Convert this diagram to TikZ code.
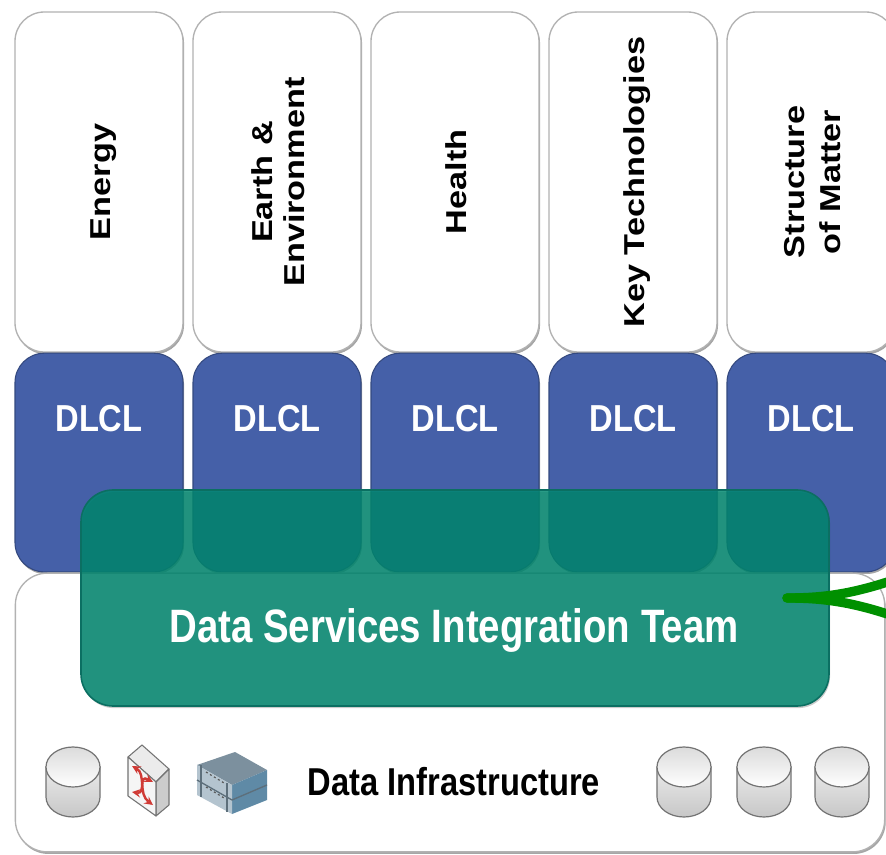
\documentclass[tikz,border=0pt]{standalone}
\usepackage{graphicx}
\usepackage{fontspec}
\setmainfont{Liberation Sans}
\usepackage{tikz}
\usetikzlibrary{positioning}
\usetikzlibrary{shadows}
\definecolor{dlclblue}{HTML}{4560A8}
\definecolor{dlcledge}{HTML}{34497F}
\definecolor{teamfill}{HTML}{018870}
\definecolor{teamedge}{HTML}{0B6F62}
\definecolor{linkgreen}{HTML}{009000}
\definecolor{servertop}{HTML}{7C909E}
\definecolor{serverside}{HTML}{5F8AA6}
\definecolor{serverfront}{HTML}{B4C4CF}
\definecolor{serverear}{HTML}{5D6F7B}
\definecolor{switchred}{HTML}{D03A35}
\newcommand{\wide}[1]{\hspace{7.5pt}\rotatebox{90}{\scalebox{1.19}[1]{\begin{tabular}{@{}c@{}}#1\end{tabular}}}}
\newcommand{\tall}[2]{\scalebox{1}[#1]{#2}}

\begin{document}
\begin{tikzpicture}[
  x=0.75pt,y=-0.75pt,
  node distance=0pt and 6.5pt,
  softshadow/.style={drop shadow={shadow xshift=0.8pt,shadow yshift=-1.6pt,opacity=0.35,fill=black}},
  topicbox/.style={draw=black!30,line width=1pt,fill=white,rounded corners=22pt,minimum width=126pt,minimum height=255pt,inner sep=0pt,softshadow,font=\bfseries\fontsize{21.6}{24}\selectfont},
  dlclbox/.style={draw=dlcledge,line width=0.8pt,fill=dlclblue,rounded corners=22pt,minimum width=126pt,minimum height=164pt,inner sep=0pt,softshadow},
  dlcltext/.style={text=white,inner sep=0pt,font=\bfseries\fontsize{24.5}{28}\selectfont},
  infrabox/.style={draw=black!30,line width=1pt,fill=white,rounded corners=24pt,minimum width=652pt,minimum height=209pt,inner sep=0pt,softshadow},
  teambox/.style={draw=teamedge,line width=1.2pt,fill=teamfill,fill opacity=0.84,rounded corners=24pt,minimum width=561pt,minimum height=162pt,inner sep=0pt,drop shadow={shadow xshift=0.8pt,shadow yshift=-1.6pt,opacity=0.2,fill=black}},
  greenlink/.style={draw=linkgreen,line width=7pt,line cap=round},
  dbicon/.pic={
    \shade[top color=black!8,bottom color=black!22,draw=black!55,line width=0.9pt] (-27,-15) -- (-27,15) arc[start angle=180,end angle=0,x radius=27,y radius=20] -- (27,-15) -- cycle;
    \shade[top color=black!14,bottom color=white,draw=black!55,line width=0.9pt] (0,-15) ellipse[x radius=27,y radius=20];
  }
]
\useasboundingbox (0,0) rectangle (886,855);
\clip (0,0) rectangle (886,855);
\fill[white] (0,0) rectangle (886,855);

\node[topicbox] (energy) at (99,182) {\wide{Energy}};
\node[topicbox, right=of energy] (earth) {\wide{Earth \&\\Environment}};
\node[topicbox, right=of earth] (health) {\wide{Health}};
\node[topicbox, right=of health] (keytech) {\wide{Key Technologies}};
\node[topicbox, right=of keytech] (matter) {\wide{Structure\\[3pt]of Matter}};

\node[dlclbox, below=of energy] (dlcl1) {};
\node[dlclbox, below=of earth] (dlcl2) {};
\node[dlclbox, below=of health] (dlcl3) {};
\node[dlclbox, below=of keytech] (dlcl4) {};
\node[dlclbox, below=of matter] (dlcl5) {};

\node[dlcltext, below=39pt of energy.south] (dlcltext1) {\tall{1.15}{DLCL}};
\node[dlcltext, below=39pt of earth.south] (dlcltext2) {\tall{1.15}{DLCL}};
\node[dlcltext, below=39pt of health.south] (dlcltext3) {\tall{1.15}{DLCL}};
\node[dlcltext, below=39pt of keytech.south] (dlcltext4) {\tall{1.15}{DLCL}};
\node[dlcltext, below=39pt of matter.south] (dlcltext5) {\tall{1.15}{DLCL}};

\node[infrabox] (infra) at (450,712.5) {};
\node[teambox] (team) at (455,598) {};
\node[text=white,inner sep=0pt,anchor=base,font=\bfseries\fontsize{28.8}{32}\selectfont] (teamtext) at (454,642) {\tall{1.22}{Data Services Integration Team}};
\node[inner sep=0pt,anchor=base,font=\bfseries\fontsize{24.5}{30}\selectfont] (infratext) at (454,795) {\tall{1.19}{Data Infrastructure}};

% storage
\pic at (73,782) {dbicon};
\pic at (684,782) {dbicon};
\pic at (764,782) {dbicon};
\pic at (842,782) {dbicon};

% switch
\draw[black!55,fill=black!8,line width=0.8pt,line join=round] (128,757) -- (142,745) -- (169,769) -- (156,782) -- cycle;
\draw[black!55,fill=black!20,line width=0.8pt,line join=round] (156,782) -- (169,769) -- (169,805) -- (156,816) -- cycle;
\draw[black!55,fill=black!4,line width=0.8pt,line join=round] (128,757) -- (156,782) -- (156,816) -- (128,796) -- cycle;
\draw[switchred,line width=1.8pt,stealth-stealth] (132,766) .. controls (146,774) and (138,794) .. (153,805);
\draw[switchred,line width=1.8pt,stealth-stealth] (132,792) .. controls (146,794) and (138,774) .. (153,782);

% server
\fill[servertop] (197,765) -- (235,752) -- (267,770) -- (232,785) -- cycle;
\fill[serverside] (232,785) -- (267,770) -- (267,800) -- (232,814) -- cycle;
\fill[serverfront] (197,765) -- (232,785) -- (232,814) -- (197,795) -- cycle;
\draw[serverear,line width=1pt] (197,780) -- (232,800) -- (267,785);
\draw[serverear,line width=2.2pt] (201,765) -- (201,797);
\draw[serverear,line width=2.2pt] (227,783) -- (227,812);
\draw[black!65,line width=0.9pt,dash pattern=on 1.5pt off 2pt] (206,772) -- (224,783);
\draw[black!65,line width=0.9pt,dash pattern=on 1.5pt off 2pt] (206,787) -- (224,798);

% link
\coordinate (linkstart) at (787,598);
\coordinate (linkup) at (905,576);
\coordinate (linkdown) at (905,620);
\draw[greenlink] (linkstart) .. controls (830,598) and (860,592) .. (linkup);
\draw[greenlink] (linkstart) .. controls (830,598) and (860,604) .. (linkdown);

\end{tikzpicture}
\end{document}
